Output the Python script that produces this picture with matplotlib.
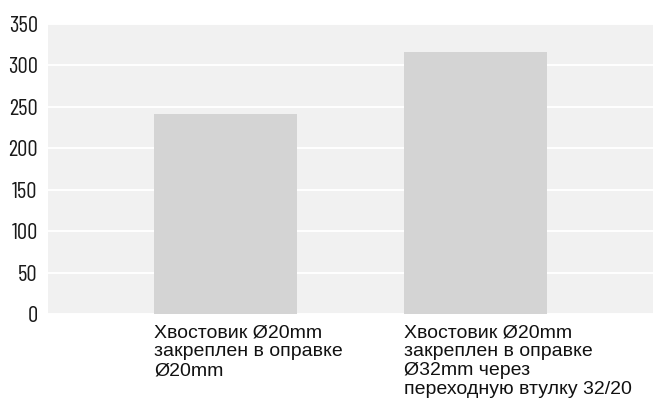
import matplotlib
matplotlib.use("Agg")
import matplotlib.pyplot as plt

categories = ["Хвостовик Ø20mm\nзакреплен в оправке\nØ20mm",
              "Хвостовик Ø20mm\nзакреплен в оправке\nØ32mm через\nпереходную втулку 32/20"]
values = [241, 316]
yticks = [0, 50, 100, 150, 200, 250, 300, 350]

fig = plt.figure(figsize=(6.53, 4.05), dpi=100)
ax = fig.add_axes([47.5/653, 1 - 314/405, (653-47.5)/653, (314-24)/405])
ax.set_facecolor("#f1f1f1")
x = list(range(len(values)))
bw = 0.573
ax.bar(x, values, width=bw, color="#d4d4d4", zorder=2)
ax.set_ylim(0, 350)
ax.set_xlim(-0.713, 1.713)
ax.set_yticks(yticks)
ax.yaxis.grid(True, color="white", linewidth=1.4, zorder=1)
ax.set_axisbelow(True)
for s in ax.spines.values():
    s.set_visible(False)
ax.tick_params(axis="y", length=0, pad=7, labelsize=16.5, labelcolor="#1a1a1a")
for lab in ax.get_yticklabels():
    lab.set_fontfamily("Barlow Condensed")
ax.set_xticks([])
for xi, cat in zip(x, categories):
    ax.annotate(cat, xy=(xi - bw/2, 0), xycoords="data",
                xytext=(0, -7.5), textcoords="offset points",
                ha="left", va="top", fontsize=14, family="Liberation Sans",
                color="#111111", linespacing=1.15, annotation_clip=False)
fig.savefig("out.png", dpi=100)
